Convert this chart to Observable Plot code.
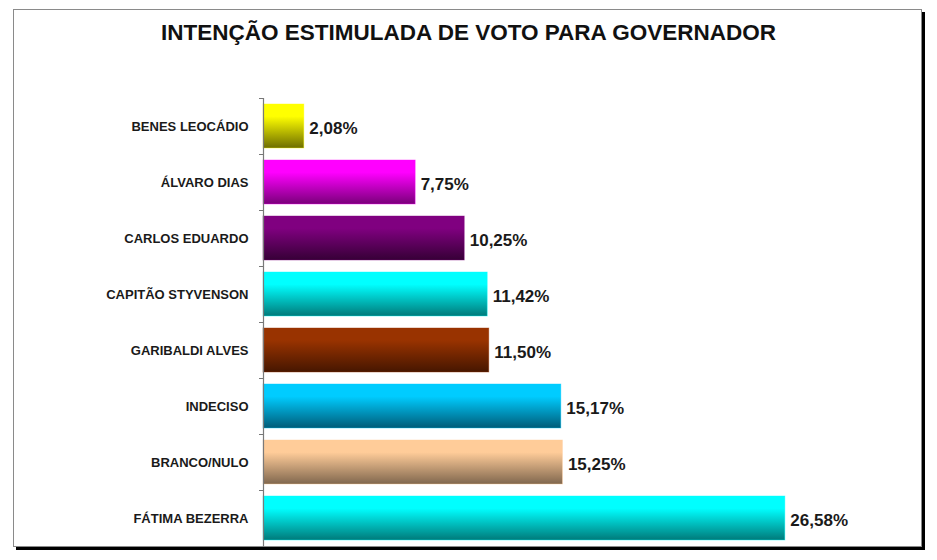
<!DOCTYPE html>
<html>
<head>
<meta charset="utf-8">
<script src="https://cdn.jsdelivr.net/npm/d3@7"></script>
<script src="https://cdn.jsdelivr.net/npm/@observablehq/plot@0.6"></script>
<style>
  body { margin: 0; background: #fff; }
  #wrap { position: relative; width: 937px; height: 560px; overflow: hidden; font-family: "Liberation Sans", Arial, sans-serif; }
  #frame { position: absolute; left: 13px; top: 9px; width: 907px; height: 536px; border: 1px solid #8a8a8a; box-shadow: 3px 3px 0 #000; background: #fff; }
  #title { position: absolute; left: 0; width: 937px; top: 20px; text-align: center; font-weight: bold; font-size: 22.5px; color: #111; }
  #chart { position: absolute; left: 0; top: 80px; }
</style>
</head>
<body>
<div id="wrap">
  <div id="frame"></div>
  <div id="title">INTENÇÃO ESTIMULADA DE VOTO PARA GOVERNADOR</div>
  <div id="chart"></div>
</div>
<script>
const categories = ["BENES LEOCÁDIO", "ÁLVARO DIAS", "CARLOS EDUARDO", "CAPITÃO STYVENSON", "GARIBALDI ALVES", "INDECISO", "BRANCO/NULO", "FÁTIMA BEZERRA"];
const values = [2.08, 7.75, 10.25, 11.42, 11.50, 15.17, 15.25, 26.58];
const topColors = ["#ffff00", "#ff00ff", "#800080", "#00ffff", "#993300", "#00ccff", "#ffcc99", "#00ffff"];
const bottomColors = ["#6e6e00", "#7a007a", "#360036", "#007a7a", "#461600", "#005c78", "#80674e", "#007a7a"];

const data = categories.map((c, i) => ({
  name: c,
  value: values[i],
  label: values[i].toFixed(2).replace(".", ",") + "%",
  fill: `url(#grad${i})`,
  stroke: topColors[i]
}));

const chart = Plot.plot({
  width: 937,
  height: 470,
  marginTop: 18,
  marginBottom: 3,
  marginLeft: 263,
  marginRight: 85,
  style: { fontFamily: "'Liberation Sans', Arial, sans-serif", background: "transparent" },
  x: { domain: [0, 30], axis: null },
  y: { domain: categories, paddingInner: 0.214, paddingOuter: 0.107, label: null },
  marks: [
    Plot.axisY({ tickSize: 0, tickPadding: 15, fontSize: 13, fontWeight: "bold", fill: "#1a1a1a", label: null }),
    Plot.axisY({ tickSize: 4, text: null, dy: -28, stroke: "#777", label: null }),
    Plot.barX(data, { x: "value", y: "name", fill: "fill", stroke: "stroke", strokeWidth: 0.8, strokeOpacity: 0.5 }),
    Plot.ruleX([0], { stroke: "#7a7a7a", strokeWidth: 1.2 }),
    Plot.text(data, { x: "value", y: "name", text: "label", textAnchor: "start", dx: 5, dy: 2, fontSize: 17, fontWeight: "bold", fill: "#1a1a1a" })
  ]
});

const svg = d3.select(chart);
const defs = svg.insert("defs", ":first-child");
topColors.forEach((c, i) => {
  const g = defs.append("linearGradient").attr("id", `grad${i}`).attr("x1", 0).attr("y1", 0).attr("x2", 0).attr("y2", 1);
  g.append("stop").attr("offset", "0%").attr("stop-color", c);
  g.append("stop").attr("offset", "28%").attr("stop-color", c);
  g.append("stop").attr("offset", "100%").attr("stop-color", bottomColors[i]);
});

document.getElementById("chart").appendChild(chart);
</script>
</body>
</html>
